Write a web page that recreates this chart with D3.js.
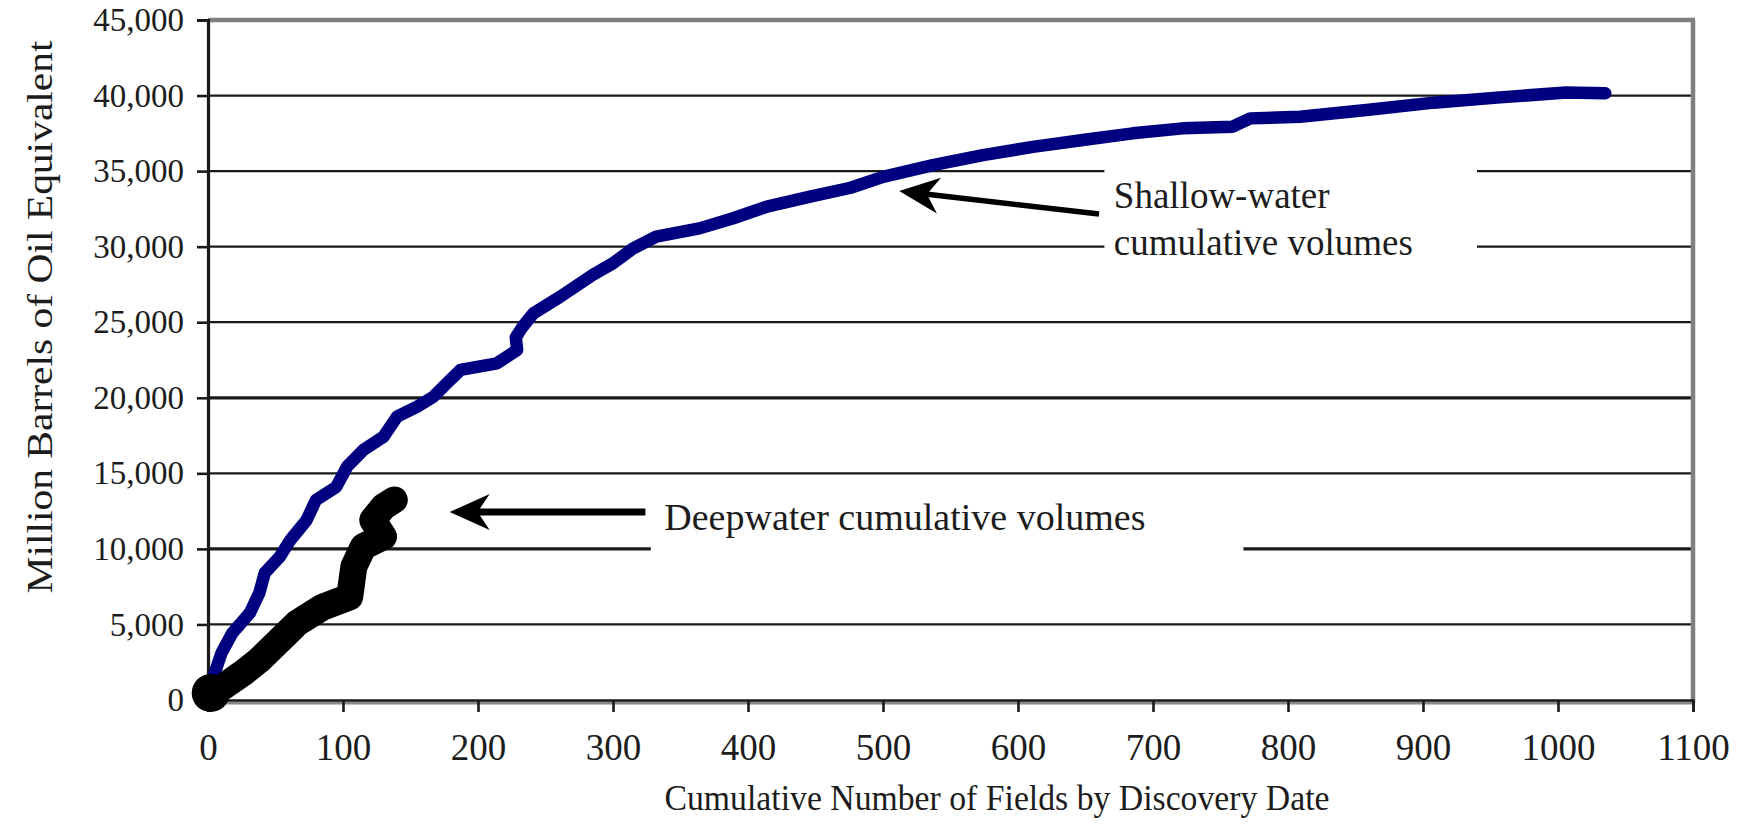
<!DOCTYPE html>
<html><head><meta charset="utf-8">
<script src="https://cdn.jsdelivr.net/npm/d3@7"></script>
<style>
body{margin:0;background:#fff;}
svg{display:block;}
text{font-family:"Liberation Serif","Times New Roman",serif;fill:#1c1c1c;}
</style>
</head><body>
<svg id="chart" width="1744" height="832"></svg>
<script>
// ---- data ----
const shallowX = [3,5,10,18,31,38,42,53,61,73,80,95,103,115,130,140,155,167,177,187,214,229,228,233,241,261,285,300,315,332,364,389,414,446,476,500,537,574,611,648,685,722,759,772,809,858,908,957,1006,1035];
const shallowY = [1200,1790,3110,4430,5760,7080,8400,9460,10590,11900,13240,14100,15440,16540,17420,18750,19410,20070,20970,21840,22280,23160,24000,24700,25590,26690,28130,28900,29890,30660,31210,31880,32650,33310,33900,34620,35400,36060,36600,37060,37500,37830,37940,38490,38600,39040,39530,39880,40200,40150];
const deepX = [2,11,26,38,51,66,85,105,108,115,130,122,130,138];
const deepY = [460,860,1790,2650,3770,5090,6150,6830,8820,10150,10810,11910,12790,13240];
const xTickValues = [0,100,200,300,400,500,600,700,800,900,1000,1100];
const yTickValues = [0,5000,10000,15000,20000,25000,30000,35000,40000,45000];
const xAxisTitle = "Cumulative Number of Fields by Discovery Date";
const yAxisTitle = "Million Barrels of Oil Equivalent";
const shallowLabel = ["Shallow-water", "cumulative volumes"];
const deepLabel = ["Deepwater cumulative volumes"];

// ---- layout (positions in data units for annotations) ----
const M = {left:208, right:1693, top:20, bottom:700};
const shallowNote = {box:[664,35400,940,28790], text:[671,32560], lineGap:29450-32560, tail:[660,32160], tip:[512,33680]};
const deepNote = {box:[328,13900,767,9260], text:[338,11250], tail:[324,12440], tip:[179,12440]};

const svg = d3.select("#chart");
const x = d3.scaleLinear().domain([0,1100]).range([M.left, M.right]);
const y = d3.scaleLinear().domain([0,45000]).range([M.bottom, M.top]);

// gridlines
svg.append("g").selectAll("line").data(yTickValues.filter(v=>v>0 && v<45000)).join("line")
  .attr("x1", M.left).attr("x2", M.right)
  .attr("y1", d=>y(d)).attr("y2", d=>y(d))
  .attr("stroke", "#1a1a1a")
  .attr("stroke-width", d=> (d===20000||d===10000) ? 3.2 : 2.2);

// frame: top and right gray
svg.append("line").attr("x1",M.left).attr("x2",M.right+2).attr("y1",M.top).attr("y2",M.top)
  .attr("stroke","#808080").attr("stroke-width",4.5);
svg.append("line").attr("x1",M.right).attr("x2",M.right).attr("y1",M.top).attr("y2",M.bottom+3)
  .attr("stroke","#808080").attr("stroke-width",4.5);

// white annotation boxes
[shallowNote, deepNote].forEach(n=>{
  svg.append("rect")
    .attr("x", x(n.box[0])).attr("y", y(n.box[1]))
    .attr("width", x(n.box[2])-x(n.box[0])).attr("height", y(n.box[3])-y(n.box[1]))
    .attr("fill","#fff");
});

// axes
const yAxis = d3.axisLeft(y).tickValues(yTickValues).tickFormat(d3.format(",")).tickSize(11).tickPadding(13);
const gy = svg.append("g").attr("transform",`translate(${M.left},0)`).call(yAxis);
gy.select(".domain").attr("stroke","#1a1a1a").attr("stroke-width",3.2);
gy.selectAll(".tick line").attr("stroke","#1a1a1a").attr("stroke-width",2.6);
gy.selectAll(".tick text").attr("font-size",33).attr("font-family","Liberation Serif").attr("fill","#1c1c1c");

// bottom shadow
svg.append("line").attr("x1",M.left).attr("x2",M.right+2).attr("y1",M.bottom+3).attr("y2",M.bottom+3)
  .attr("stroke","#888").attr("stroke-width",3);
const xAxis = d3.axisBottom(x).tickValues(xTickValues).tickFormat(d3.format("d")).tickSize(12).tickPadding(22);
const gx = svg.append("g").attr("transform",`translate(0,${M.bottom})`).call(xAxis);
gx.select(".domain").attr("stroke","#1a1a1a").attr("stroke-width",2.4);
gx.selectAll(".tick line").attr("stroke","#1a1a1a").attr("stroke-width",2.6);
gx.selectAll(".tick text").attr("font-size",37).attr("font-family","Liberation Serif").attr("fill","#1c1c1c");

// axis titles
svg.append("text").text(xAxisTitle)
  .attr("x", 997).attr("y", 810).attr("text-anchor","middle")
  .attr("font-size",36).attr("fill","#2a2a2a")
  .attr("textLength",665).attr("lengthAdjust","spacingAndGlyphs");
svg.append("text").text(yAxisTitle)
  .attr("transform","translate(52,317) rotate(-90)").attr("text-anchor","middle")
  .attr("font-size",36).attr("fill","#2a2a2a")
  .attr("textLength",553).attr("lengthAdjust","spacingAndGlyphs");

// series
const line = d3.line().x(d=>x(d[0])).y(d=>y(d[1]));
const deep = deepX.map((v,i)=>[v,deepY[i]]);
const shallow = shallowX.map((v,i)=>[v,shallowY[i]]);
svg.append("path").datum(shallow).attr("d",line).attr("fill","none")
  .attr("stroke","#000080").attr("stroke-width",12.5)
  .attr("stroke-linejoin","round").attr("stroke-linecap","round");
svg.append("path").datum(deep).attr("d",line).attr("fill","none")
  .attr("stroke","#000").attr("stroke-width",27)
  .attr("stroke-linejoin","round").attr("stroke-linecap","round");
svg.append("circle").attr("cx",x(deep[0][0])).attr("cy",y(deep[0][1])).attr("r",19).attr("fill","#000");

// arrows
function arrow(n, w){
  const x1=x(n.tail[0]), y1=y(n.tail[1]), x2=x(n.tip[0]), y2=y(n.tip[1]);
  const dx=x2-x1, dy=y2-y1, len=Math.hypot(dx,dy), ux=dx/len, uy=dy/len, px=-uy, py=ux;
  const L=40, W=36;
  svg.append("line").attr("x1",x1).attr("y1",y1).attr("x2",x2-ux*L*0.6).attr("y2",y2-uy*L*0.6)
    .attr("stroke","#000").attr("stroke-width",w);
  const pts=[[x2,y2],[x2-ux*L+px*W/2,y2-uy*L+py*W/2],[x2-ux*L*0.7,y2-uy*L*0.7],[x2-ux*L-px*W/2,y2-uy*L-py*W/2]];
  svg.append("path").attr("d","M"+pts.map(p=>p.join(",")).join("L")+"Z").attr("fill","#000");
}
arrow(shallowNote, 5.5);
arrow(deepNote, 7);

// annotation texts
shallowLabel.forEach((t,i)=>{
  svg.append("text").text(t).attr("x",x(shallowNote.text[0]))
    .attr("y", y(shallowNote.text[1] + i*shallowNote.lineGap)).attr("font-size",37);
});
deepLabel.forEach(t=>{
  svg.append("text").text(t).attr("x",x(deepNote.text[0])).attr("y",y(deepNote.text[1])).attr("font-size",38);
});
</script>
</body></html>
